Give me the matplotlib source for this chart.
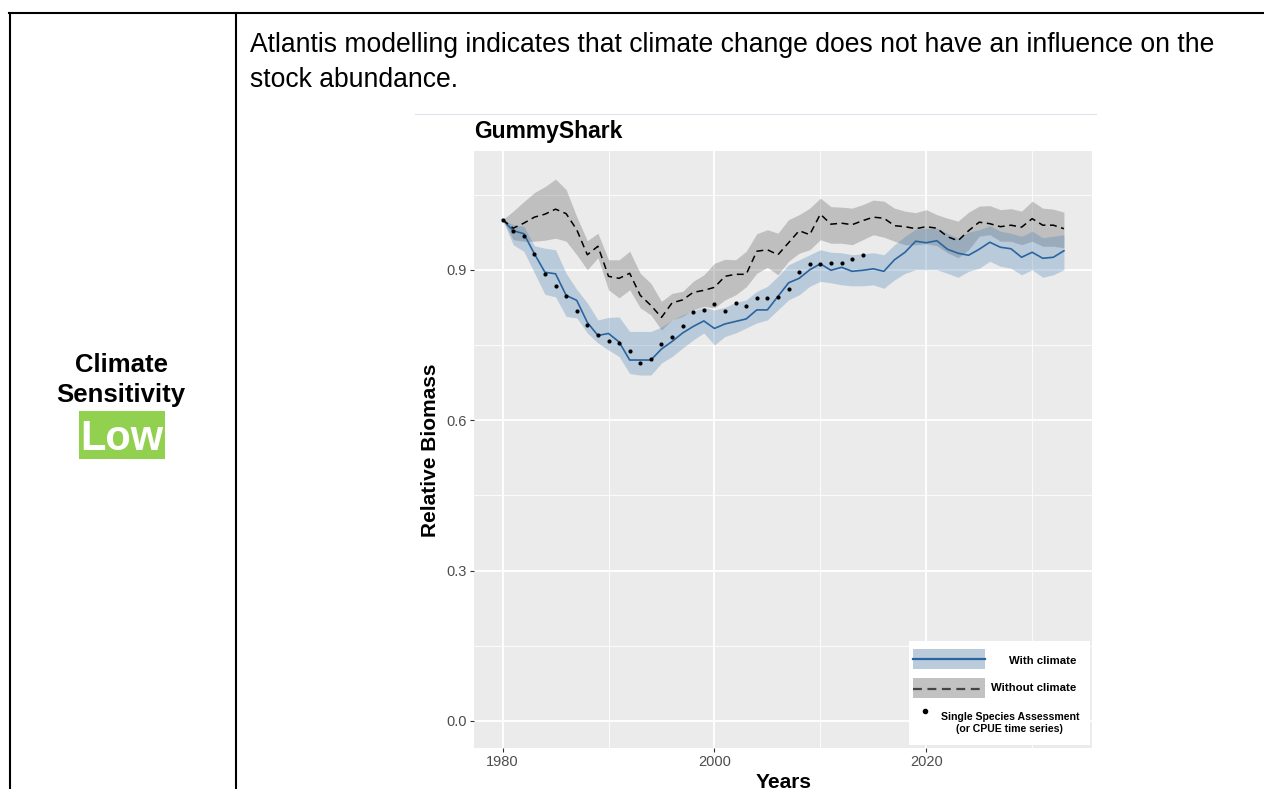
import matplotlib.pyplot as plt
import numpy as np
from matplotlib.patches import Rectangle
from matplotlib.lines import Line2D

plt.rcParams['font.family'] = ['Liberation Sans', 'DejaVu Sans']

W, H = 1264, 789

# ---- data ----
years = np.arange(1980, 2034)

with_climate = [1.000, 0.978, 0.972, 0.932, 0.895, 0.892, 0.849, 0.839, 0.795, 0.769,
                0.773, 0.756, 0.720, 0.720, 0.720, 0.742, 0.757, 0.774, 0.787, 0.798,
                0.783, 0.792, 0.797, 0.802, 0.820, 0.820, 0.847, 0.874, 0.883, 0.900,
                0.912, 0.899, 0.905, 0.897, 0.899, 0.902, 0.897, 0.920, 0.935, 0.957,
                0.954, 0.958, 0.941, 0.933, 0.929, 0.941, 0.955, 0.945, 0.942, 0.925,
                0.935, 0.923, 0.925, 0.938]
with_lo = [1.000, 0.950, 0.937, 0.894, 0.851, 0.846, 0.807, 0.804, 0.774, 0.754,
           0.740, 0.727, 0.693, 0.690, 0.690, 0.714, 0.727, 0.744, 0.760, 0.774,
           0.750, 0.767, 0.774, 0.784, 0.794, 0.800, 0.820, 0.840, 0.850, 0.867,
           0.877, 0.874, 0.870, 0.868, 0.868, 0.870, 0.863, 0.880, 0.893, 0.900,
           0.900, 0.900, 0.893, 0.885, 0.897, 0.903, 0.917, 0.907, 0.903, 0.890,
           0.900, 0.885, 0.890, 0.900]
with_hi = [1.000, 0.990, 0.987, 0.948, 0.943, 0.940, 0.893, 0.861, 0.834, 0.800,
           0.805, 0.806, 0.777, 0.777, 0.777, 0.786, 0.800, 0.810, 0.818, 0.825,
           0.820, 0.825, 0.835, 0.840, 0.857, 0.867, 0.887, 0.910, 0.920, 0.930,
           0.940, 0.935, 0.934, 0.930, 0.932, 0.934, 0.930, 0.950, 0.967, 0.981,
           0.983, 0.983, 0.973, 0.963, 0.975, 0.980, 0.988, 0.977, 0.973, 0.967,
           0.977, 0.964, 0.967, 0.970]

without_climate = [1.000, 0.983, 0.993, 1.005, 1.011, 1.021, 1.012, 0.980, 0.930, 0.947,
                   0.887, 0.883, 0.893, 0.849, 0.829, 0.805, 0.834, 0.840, 0.855, 0.859,
                   0.865, 0.887, 0.891, 0.891, 0.937, 0.940, 0.930, 0.954, 0.978, 0.970,
                   1.011, 0.991, 0.993, 0.990, 0.998, 1.005, 1.003, 0.988, 0.986, 0.982,
                   0.986, 0.983, 0.966, 0.958, 0.978, 0.995, 0.992, 0.986, 0.989, 0.985,
                   1.002, 0.989, 0.989, 0.982]
without_lo = [1.000, 0.960, 0.957, 0.957, 0.959, 0.963, 0.957, 0.930, 0.900, 0.924,
              0.860, 0.844, 0.860, 0.824, 0.810, 0.780, 0.800, 0.807, 0.820, 0.827,
              0.824, 0.840, 0.850, 0.866, 0.893, 0.905, 0.890, 0.917, 0.933, 0.940,
              0.960, 0.953, 0.953, 0.950, 0.960, 0.970, 0.965, 0.957, 0.950, 0.950,
              0.952, 0.948, 0.934, 0.924, 0.940, 0.967, 0.970, 0.957, 0.957, 0.950,
              0.957, 0.947, 0.947, 0.944]
without_hi = [1.000, 1.017, 1.036, 1.054, 1.066, 1.081, 1.060, 1.006, 0.958, 0.973,
              0.920, 0.920, 0.937, 0.893, 0.873, 0.837, 0.853, 0.857, 0.877, 0.890,
              0.913, 0.921, 0.920, 0.937, 0.972, 0.980, 0.973, 1.000, 1.010, 1.023,
              1.043, 1.026, 1.025, 1.023, 1.030, 1.039, 1.037, 1.023, 1.017, 1.014,
              1.020, 1.010, 1.003, 0.997, 1.015, 1.027, 1.028, 1.020, 1.022, 1.017,
              1.037, 1.023, 1.021, 1.015]

ssa_years = np.arange(1980, 2015)
ssa_values = [1.000, 0.977, 0.968, 0.932, 0.892, 0.868, 0.848, 0.817, 0.789, 0.769,
              0.757, 0.754, 0.739, 0.715, 0.723, 0.752, 0.766, 0.787, 0.815, 0.820,
              0.832, 0.817, 0.834, 0.827, 0.844, 0.844, 0.846, 0.862, 0.895, 0.912,
              0.912, 0.913, 0.913, 0.922, 0.930]

x_major = [1980, 2000, 2020]
x_minor = [1990, 2010, 2030]
y_major = [0.0, 0.3, 0.6, 0.9]
y_minor = [0.15, 0.45, 0.75, 1.05]

text_line1 = "Atlantis modelling indicates that climate change does not have an influence on the"
text_line2 = "stock abundance."


def fx(x):
    return x / W


def fy(y):
    return 1 - y / H


fig = plt.figure(figsize=(W / 100, H / 100), dpi=100)

# table borders
for xs, ys in [((9, W), (12.7, 12.7)), ((10, 10), (12.7, H)), ((236, 236), (12.7, H))]:
    fig.add_artist(Line2D([fx(v) for v in xs], [fy(v) for v in ys], color='black',
                          lw=1.5, transform=fig.transFigure, solid_capstyle='projecting'))

# left cell
fig.text(fx(121), fy(372), "Climate", ha='center', va='baseline', fontsize=18.5, fontweight='bold')
fig.text(fx(121), fy(402), "Sensitivity", ha='center', va='baseline', fontsize=18.5, fontweight='bold')
fig.add_artist(Rectangle((fx(79), fy(459)), fx(165) - fx(79), (459 - 411) / H,
                         color='#92D050', transform=fig.transFigure, lw=0))
fig.text(fx(122), fy(450), "Low", ha='center', va='baseline', fontsize=30,
         fontweight='bold', color='white')

# right cell text
fig.text(fx(250), fy(52), text_line1, ha='left', va='baseline', fontsize=19.1)
fig.text(fx(250), fy(87), text_line2, ha='left', va='baseline', fontsize=19.1)

# faint edge of the embedded picture
fig.add_artist(Line2D([fx(415), fx(1096)], [fy(113.5), fy(113.5)], color='#DCE3EB',
                      lw=0.8, transform=fig.transFigure))

# ---- chart ----
ax = fig.add_axes([fx(474), fy(748), (1092 - 474) / W, (748 - 151) / H])
ax.set_facecolor('#EBEBEB')
for s in ax.spines.values():
    s.set_visible(False)

ax.fill_between(years, without_lo, without_hi, color='#7F7F7F', alpha=0.4, lw=0)
ax.fill_between(years, with_lo, with_hi, color='#4682B4', alpha=0.3, lw=0)
ax.plot(years, with_climate, color='#2A64A0', lw=1.2)
ax.plot(years, without_climate, color='black', lw=1.1, ls=(0, (4.5, 3)))
ax.scatter(ssa_years, ssa_values, s=9, color='black', lw=0, zorder=5)

ax.set_xlim(1977.3, 2035.65)
ax.set_ylim(-0.054, 1.137)
ax.set_xticks(x_major)
ax.set_xticks(x_minor, minor=True)
ax.set_yticks(y_major)
ax.set_yticklabels([f"{v:.1f}" for v in y_major])
ax.set_yticks(y_minor, minor=True)
ax.set_axisbelow(True)
ax.grid(which='major', color='white', lw=1.3)
ax.grid(which='minor', color='white', lw=0.6)
ax.tick_params(which='major', length=3, width=0.8, color='#333333', labelcolor='#4D4D4D',
               labelsize=10.5, pad=2)
ax.tick_params(which='minor', length=0)

fig.text(fx(474), fy(138), "GummyShark", ha='left', va='baseline', fontsize=16.5, fontweight='bold')
fig.text(fx(430), fy(450), "Relative Biomass", ha='center', va='center', rotation=90,
         fontsize=15, fontweight='bold')
fig.text(fx(784), fy(782), "Years", ha='center', va='center', fontsize=15, fontweight='bold')

# legend box (ggplot style, drawn by hand)
fig.add_artist(Rectangle((fx(909), fy(745)), (1090 - 909) / W, (745 - 641) / H,
                         color='white', transform=fig.transFigure, lw=0, zorder=5))
fig.add_artist(Rectangle((fx(913), fy(669)), (985 - 913) / W, 20 / H,
                         color='#BACCDB', transform=fig.transFigure, lw=0, zorder=6))
fig.add_artist(Line2D([fx(913), fx(985)], [fy(659), fy(659)], color='#2A64A0', lw=1.6,
                      transform=fig.transFigure, zorder=7))
fig.add_artist(Rectangle((fx(913), fy(698)), (985 - 913) / W, 20 / H,
                         color='#C2C2C2', transform=fig.transFigure, lw=0, zorder=6))
fig.add_artist(Line2D([fx(913), fx(985)], [fy(689), fy(689)], color='#444444', lw=1.6,
                      ls=(0, (4, 2.5)), transform=fig.transFigure, zorder=7))
fig.text(fx(1076), fy(661), "With climate", ha='right', va='center', fontsize=8.2,
         fontweight='bold', zorder=8)
fig.text(fx(1076), fy(688), "Without climate", ha='right', va='center', fontsize=8.2,
         fontweight='bold', zorder=8)
fig.add_artist(Line2D([fx(925)], [fy(711)], marker='o', ms=3, color='black', lw=0,
                      transform=fig.transFigure, zorder=8))
fig.text(fx(1010), fy(717), "Single Species Assessment", ha='center', va='center',
         fontsize=7.6, fontweight='bold', zorder=8)
fig.text(fx(1009), fy(729), "(or CPUE time series)", ha='center', va='center',
         fontsize=7.6, fontweight='bold', zorder=8)

fig.savefig('out.png', dpi=100)
